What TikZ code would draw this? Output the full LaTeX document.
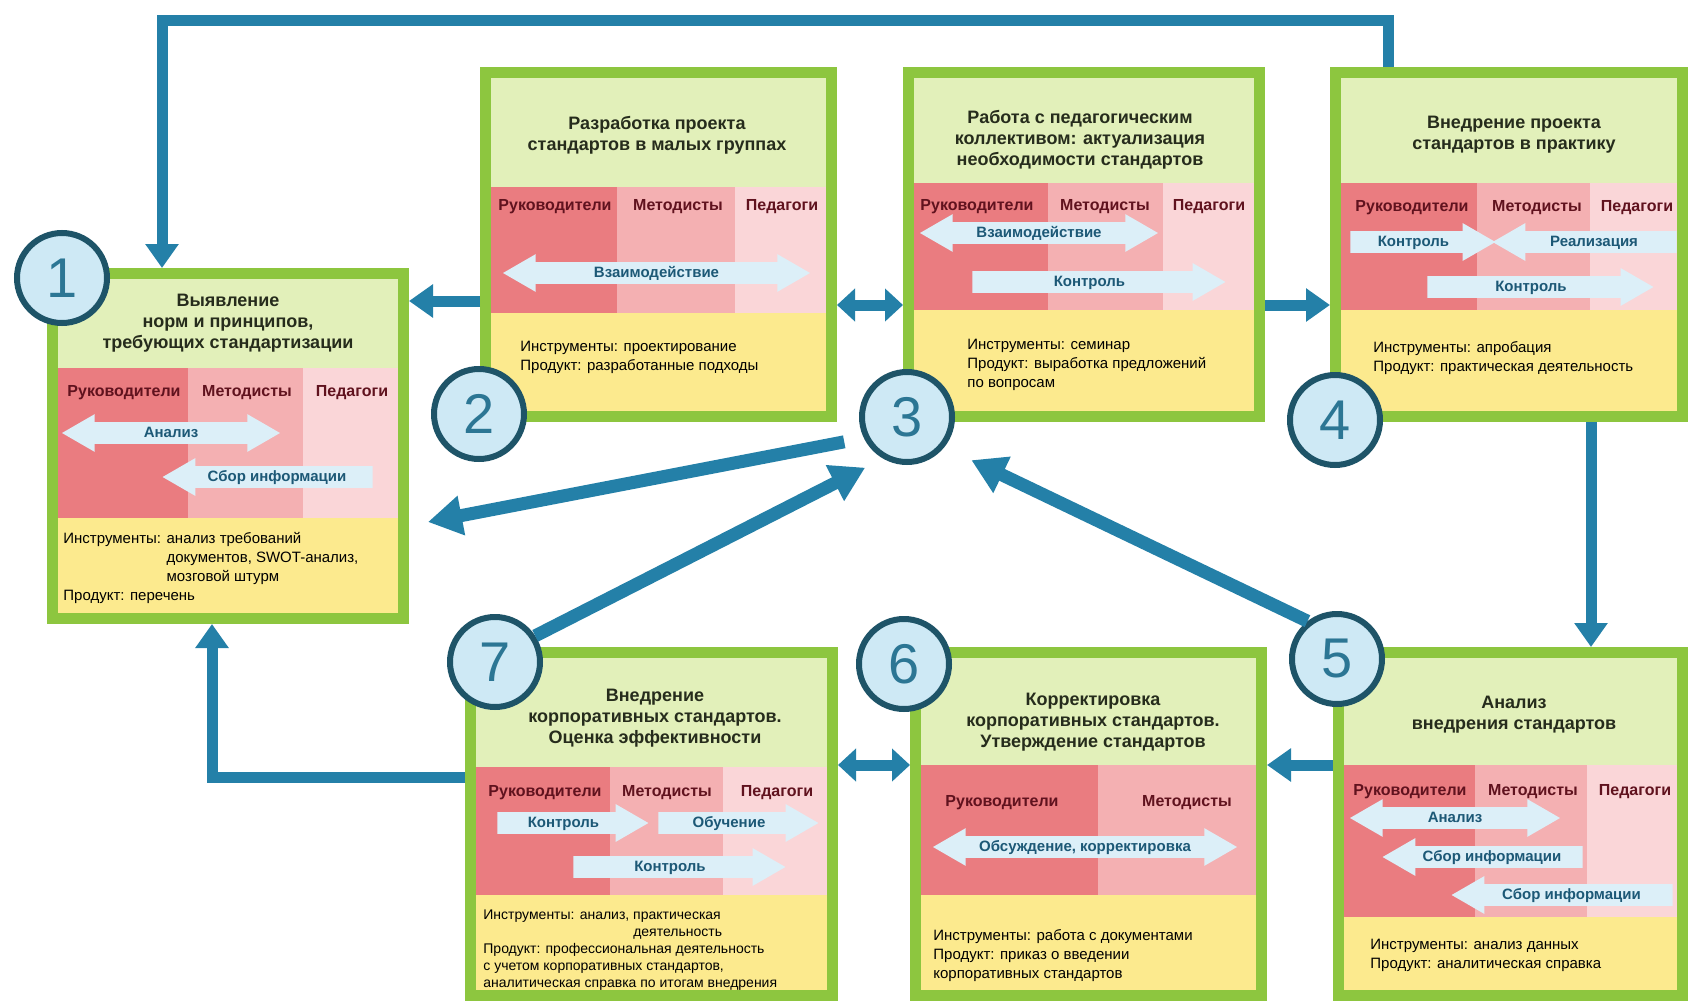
\documentclass[tikz,border=0pt]{standalone}
\usepackage{fontspec}
\setmainfont{Liberation Sans}
\usetikzlibrary{calc,fit,shapes.arrows,arrows.meta}

\definecolor{frameg}{RGB}{141,198,63}
\definecolor{headg}{RGB}{226,240,186}
\definecolor{lead}{RGB}{234,124,128}
\definecolor{meth}{RGB}{244,176,178}
\definecolor{teach}{RGB}{250,214,216}
\definecolor{toolsy}{RGB}{252,234,142}
\definecolor{linkb}{RGB}{36,128,168}
\definecolor{ringd}{RGB}{30,84,104}
\definecolor{ringf}{RGB}{206,233,245}
\definecolor{digitb}{RGB}{44,118,148}
\definecolor{fatf}{RGB}{220,239,248}
\definecolor{fatt}{RGB}{28,88,118}
\definecolor{rolet}{RGB}{96,18,30}
\definecolor{titlet}{RGB}{38,44,28}

\tikzset{
  stageframe/.style={draw=frameg, line width=5.5pt, inner sep=0pt},
  stagetitle/.style={align=center, text=titlet, font=\fontsize{9}{10.5}\selectfont\bfseries},
  rolename/.style={text=rolet, font=\fontsize{8}{9}\selectfont\bfseries, inner sep=0pt},
  toolstext/.style={align=left, anchor=north west, inner sep=0pt, font=\fontsize{7.5}{9.5}\selectfont},
  fatone/.style={single arrow, fill=fatf, text=fatt, font=\fontsize{7.5}{8}\selectfont\bfseries,
    text height=5.5pt, text depth=1.5pt, inner ysep=1.75pt, inner xsep=1pt,
    single arrow head extend=4pt, single arrow tip angle=60, anchor=tail},
  fatleft/.style={fatone, shape border rotate=180},
  fattwo/.style={double arrow, fill=fatf, text=fatt, font=\fontsize{7.5}{8}\selectfont\bfseries,
    text height=5.5pt, text depth=1.5pt, inner ysep=1.75pt, inner xsep=1pt,
    double arrow head extend=4pt, double arrow tip angle=60},
  link/.style={draw=linkb, line width=5.5pt, -{Triangle[width=16pt,length=12pt]}},
  twolink/.style={draw=linkb, line width=5.5pt, {Triangle[width=16pt,length=9pt]}-{Triangle[width=16pt,length=9pt]}},
  biglink/.style={draw=linkb, line width=6.5pt, -{Triangle[width=19pt,length=17pt]}},
  numcircle/.style={circle, draw=ringd, fill=ringf, line width=3pt, minimum size=45pt, inner sep=0pt,
    text=digitb, font=\fontsize{28}{28}\selectfont}
}

\begin{document}
\begin{tikzpicture}[x=0.5pt, y=-0.5pt]
    \useasboundingbox (0,0) rectangle (1688,1001);
    \fill[white] (0,0) rectangle (1688,1001);

    %Stage 1
    \fill[headg] (52.5,273.5) rectangle (403.5,618.5);
    \fill[lead] (52.5,368) rectangle (188,518);
    \fill[meth] (188,368) rectangle (303,518);
    \fill[teach] (303,368) rectangle (403.5,518);
    \fill[toolsy] (52.5,518) rectangle (403.5,618.5);
    \node[stageframe, fit={(52.5,273.5) (403.5,618.5)}] (b1) {};
    \node[stagetitle] (t1) at (228,323) {Выявление\\норм и принципов,\\требующих стандартизации};
    \node[rolename] (r1a) at (124,393) {Руководители};
    \node[rolename] (r1b) at (247,393) {Методисты};
    \node[rolename] (r1c) at (352,393) {Педагоги};
    \node[fattwo, minimum height=109pt] (a1a) at (171,433) {Анализ};
    \node[fatleft, minimum height=105pt] (a1b) at (373,477) {Сбор информации};
    \node[toolstext] (i1) at (63,532) {Инструменты: анализ требований\\
        \phantom{Инструменты: }документов, SWOT-анализ,\\
        \phantom{Инструменты: }мозговой штурм\\Продукт: перечень};

    %Stage 2
    \fill[headg] (485.5,72.5) rectangle (831.5,416.5);
    \fill[lead] (485.5,187) rectangle (617,313);
    \fill[meth] (617,187) rectangle (735,313);
    \fill[teach] (735,187) rectangle (831.5,313);
    \fill[toolsy] (485.5,313) rectangle (831.5,416.5);
    \node[stageframe, fit={(485.5,72.5) (831.5,416.5)}] (b2) {};
    \node[stagetitle] (t2) at (657,135) {Разработка проекта\\стандартов в малых группах};
    \node[rolename] (r2a) at (555,207) {Руководители};
    \node[rolename] (r2b) at (678,207) {Методисты};
    \node[rolename] (r2c) at (782,207) {Педагоги};
    \node[fattwo, minimum height=153.5pt] (a2a) at (656.5,273) {Взаимодействие};
    \node[toolstext] (i2) at (520,341) {Инструменты: проектирование\\Продукт: разработанные подходы};

    %Stage 3
    \fill[headg] (908.5,72.5) rectangle (1259.5,416.5);
    \fill[lead] (908.5,183) rectangle (1048,310);
    \fill[meth] (1048,183) rectangle (1163,310);
    \fill[teach] (1163,183) rectangle (1259.5,310);
    \fill[toolsy] (908.5,310) rectangle (1259.5,416.5);
    \node[stageframe, fit={(908.5,72.5) (1259.5,416.5)}] (b3) {};
    \node[stagetitle] (t3) at (1080,140) {Работа с педагогическим\\коллективом: актуализация\\необходимости стандартов};
    \node[rolename] (r3a) at (977,207) {Руководители};
    \node[rolename] (r3b) at (1105,207) {Методисты};
    \node[rolename] (r3c) at (1209,207) {Педагоги};
    \node[fattwo, minimum height=119pt] (a3a) at (1039,233) {Взаимодействие};
    \node[fatone, minimum height=126.5pt] (a3b) at (972,282) {Контроль};
    \node[toolstext] (i3) at (967,339) {Инструменты: семинар\\Продукт: выработка предложений\\по вопросам};

    %Stage 4
    \fill[headg] (1335.5,72.5) rectangle (1682.5,416.5);
    \fill[lead] (1335.5,183) rectangle (1477,310);
    \fill[meth] (1477,183) rectangle (1590,310);
    \fill[teach] (1590,183) rectangle (1682.5,310);
    \fill[toolsy] (1335.5,310) rectangle (1682.5,416.5);
    \node[stageframe, fit={(1335.5,72.5) (1682.5,416.5)}] (b4) {};
    \node[stagetitle] (t4) at (1514,135) {Внедрение проекта\\стандартов в практику};
    \node[rolename] (r4a) at (1412,208) {Руководители};
    \node[rolename] (r4b) at (1537,208) {Методисты};
    \node[rolename] (r4c) at (1637,208) {Педагоги};
    \node[fatone, minimum height=72.5pt] (a4a) at (1350,242) {Контроль};
    \node[fatleft, minimum height=92pt] (a4b) at (1677,242) {Реализация};
    \node[fatone, minimum height=113pt] (a4c) at (1427,287) {Контроль};
    \node[toolstext] (i4) at (1373,341) {Инструменты: апробация\\Продукт: практическая деятельность};

    %Stage 5
    \fill[headg] (1338.5,652.5) rectangle (1682.5,995.5);
    \fill[lead] (1338.5,765) rectangle (1475,917);
    \fill[meth] (1475,765) rectangle (1587,917);
    \fill[teach] (1587,765) rectangle (1682.5,917);
    \fill[toolsy] (1338.5,917) rectangle (1682.5,995.5);
    \node[stageframe, fit={(1338.5,652.5) (1682.5,995.5)}] (b5) {};
    \node[stagetitle] (t5) at (1514,715) {Анализ\\внедрения стандартов};
    \node[rolename] (r5a) at (1410,792) {Руководители};
    \node[rolename] (r5b) at (1533,792) {Методисты};
    \node[rolename] (r5c) at (1635,792) {Педагоги};
    \node[fattwo, minimum height=105pt] (a5a) at (1455,818) {Анализ};
    \node[fatleft, minimum height=100pt] (a5b) at (1583,857) {Сбор информации};
    \node[fatleft, minimum height=110.5pt] (a5c) at (1673,895) {Сбор информации};
    \node[toolstext] (i5) at (1370,939) {Инструменты: анализ данных\\Продукт: аналитическая справка};

    %Stage 6
    \fill[headg] (915.5,652.5) rectangle (1261.5,995.5);
    \fill[lead] (915.5,765) rectangle (1098,895);
    \fill[meth] (1098,765) rectangle (1261.5,895);
    \fill[toolsy] (915.5,895) rectangle (1261.5,995.5);
    \node[stageframe, fit={(915.5,652.5) (1261.5,995.5)}] (b6) {};
    \node[stagetitle] (t6) at (1093,722) {Корректировка\\корпоративных стандартов.\\Утверждение стандартов};
    \node[rolename] (r6a) at (1002,803) {Руководители};
    \node[rolename] (r6b) at (1187,803) {Методисты};
    \node[fattwo, minimum height=152pt] (a6a) at (1085,847) {Обсуждение, корректировка};
    \node[toolstext] (i6) at (933,929) {Инструменты: работа с документами\\Продукт: приказ о введении\\корпоративных стандартов};

    %Stage 7
    \fill[headg] (470.5,652.5) rectangle (832.5,995.5);
    \fill[lead] (470.5,767) rectangle (610,895);
    \fill[meth] (610,767) rectangle (723,895);
    \fill[teach] (723,767) rectangle (832.5,895);
    \fill[toolsy] (470.5,895) rectangle (832.5,995.5);
    \node[stageframe, fit={(470.5,652.5) (832.5,995.5)}] (b7) {};
    \node[stagetitle] (t7) at (655,718) {Внедрение\\корпоративных стандартов.\\Оценка эффективности};
    \node[rolename] (r7a) at (545,793) {Руководители};
    \node[rolename] (r7b) at (667,793) {Методисты};
    \node[rolename] (r7c) at (777,793) {Педагоги};
    \node[fatone, minimum height=75.5pt] (a7a) at (497,823) {Контроль};
    \node[fatone, minimum height=80pt] (a7b) at (658,823) {Обучение};
    \node[fatone, minimum height=106pt] (a7c) at (573,867) {Контроль};
    \node[toolstext, font=\fontsize{7}{8.5}\selectfont] (i7) at (483,909) {Инструменты: анализ, практическая\\
        \phantom{Инструменты: анализ, }деятельность\\Продукт: профессиональная деятельность\\
        с учетом корпоративных стандартов,\\аналитическая справка по итогам внедрения};

    %Numbers
    \foreach \n/\x/\y in {1/62/278, 2/479/414, 3/907/417, 4/1335/420, 5/1337/659, 6/904/664, 7/495/662}
        \node[numcircle] (c\n) at (\x,\y) {\n};

    %Lines
    \coordinate (loopR) at (1388,20);
    \coordinate (loopL) at (162,20);
    \draw[link] (b4.north -| loopR) -- (loopR) -- (loopL) -- (b1.north -| loopL);
    \coordinate (rowA) at (0,301);
    \draw[link] (b2.west |- rowA) -- (b1.east |- rowA);
    \coordinate (rowB) at (0,305);
    \draw[twolink] (b2.east |- rowB) -- (b3.west |- rowB);
    \draw[link] (b3.east |- rowB) -- (b4.west |- rowB);
    \coordinate (colR) at (1591,0);
    \draw[link] (b4.south -| colR) -- (b5.north -| colR);
    \coordinate (rowC) at (0,765);
    \draw[link] (b5.west |- rowC) -- (b6.east |- rowC);
    \draw[twolink] (b6.west |- rowC) -- (b7.east |- rowC);
    \coordinate (loopB) at (212,777);
    \draw[link] (b7.west |- loopB) -- (loopB) -- (b1.south -| loopB);
    \coordinate (hit1) at ($(b1.east)+(19,76)$);
    \draw[biglink, shorten <=10pt] (c3.206) -- (hit1);
    \draw[biglink, shorten >=10pt] (c7.33) -- (c3.240);
    \draw[biglink, shorten >=15pt] (c5.128) -- (c3.321);
\end{tikzpicture}
\end{document}
